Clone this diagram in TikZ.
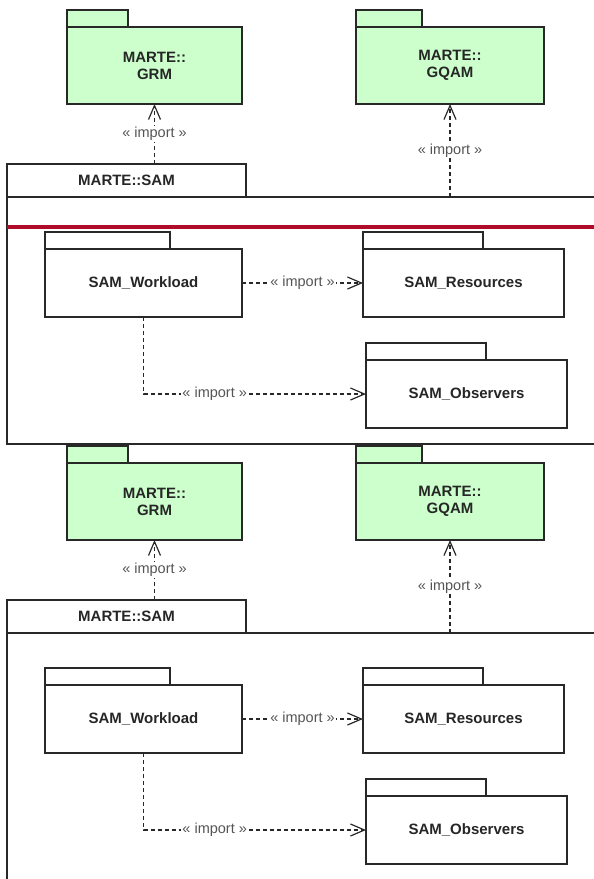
\documentclass[tikz,border=0pt]{standalone}
\usepackage{fontspec}
\setmainfont{Liberation Sans}
\usepackage{xcolor}
\usepackage{tikz}
\usetikzlibrary{arrows.meta,positioning,calc}
\definecolor{umlLine}{RGB}{40,40,40}
\definecolor{umlGreen}{RGB}{204,255,204}
\definecolor{umlGrey}{RGB}{85,85,85}
\definecolor{sepRed}{RGB}{176,12,42}

\begin{document}
\begin{tikzpicture}[
    x=1pt, y=-1pt,
    every node/.style={font=\fontsize{15}{17}\selectfont\bfseries, text=black!85},
    pkg/.style={rectangle, draw=umlLine, line width=1.3pt, fill=white, minimum width=#1,
        minimum height=68pt, align=center, inner sep=0pt, outer sep=0pt},
    marte/.style={pkg=#1, fill=umlGreen, minimum height=77pt},
    pkgtab/.style={rectangle, draw=umlLine, line width=1.3pt, fill=white, minimum width=#1,
        minimum height=17pt, inner sep=0pt, outer sep=0pt, anchor=south west},
    frame/.style={rectangle, draw=umlLine, line width=1.2pt, minimum width=650pt,
        inner sep=0pt, outer sep=0pt, anchor=north west},
    imp/.style={-{Straight Barb[length=14pt,width=12pt,line width=1.2pt]}, draw=umlLine,
        line width=1.3pt, dash pattern=on 4pt off 3pt},
    implabel/.style={font=\fontsize{14.5}{16}\selectfont, text=umlGrey, fill=white, inner sep=1pt},
    sepline/.style={draw=sepRed, line width=4.5pt},
    ]
    \useasboundingbox (0,0) rectangle (594,879);
    \foreach \dy/\k/\fh in {0/a/247, 436/b/400} {
        % MARTE packages
        \node[marte=175pt] (grm\k)  at (154.5,65.5+\dy) {MARTE::\\GRM};
        \node[pkgtab=61pt, fill=umlGreen] (grmtab\k) at (grm\k.north west) {};
        \node[marte=188pt] (gqam\k) at (450,65.5+\dy)   {MARTE::\\GQAM};
        \node[pkgtab=66pt, fill=umlGreen] (gqamtab\k) at (gqam\k.north west) {};
        % SAM frame
        \node[pkg=239pt, minimum height=33pt] (sam\k) at (126.5,180.5+\dy) {MARTE::SAM};
        \node[frame, minimum height=\fh pt] (body\k) at (sam\k.south west) {};
        % SAM sub-packages
        \node[pkg=197pt] (work\k) at (143.5,283+\dy) {SAM\_Workload};
        \node[pkgtab=125pt] (worktab\k) at (work\k.north west) {};
        \node[pkg=201pt] (res\k)  at (463.5,283+\dy) {SAM\_Resources};
        \node[pkgtab=120pt] (restab\k) at (res\k.north west) {};
        \node[pkg=201pt] (obs\k)  at (466.5,394+\dy) {SAM\_Observers};
        \node[pkgtab=120pt] (obstab\k) at (obs\k.north west) {};
        % Imports
        \draw[imp] (grm\k.south |- sam\k.north) -- node[implabel] {« import »} (grm\k.south);
        \draw[imp] (gqam\k.south |- body\k.north) -- node[implabel] {« import »} (gqam\k.south);
        \draw[imp] (work\k) -- node[implabel] {« import »} (res\k);
        \draw[imp] (work\k.south) |- node[implabel, pos=0.66] {« import »} (obs\k.west);
    }
    \draw[sepline] ($(bodya.north west)+(0,30)$) -- ($(bodya.north east)+(0,30)$);
\end{tikzpicture}
\end{document}
